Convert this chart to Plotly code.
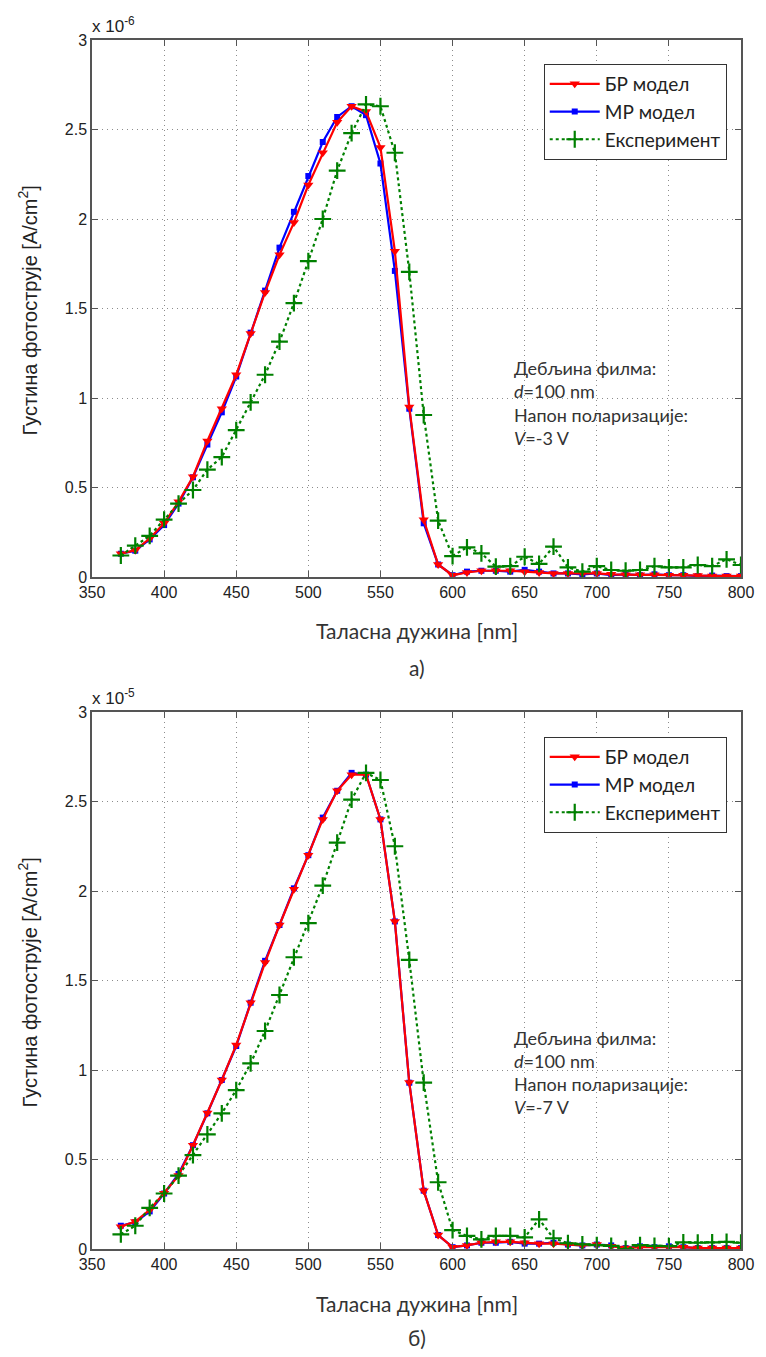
import plotly.graph_objects as go

# ---------------- data ----------------
wavelength_nm = list(range(370, 801, 10))

# top panel, values in units of 1e-6 A/cm^2
top_br = [0.13, 0.15, 0.215, 0.30, 0.42, 0.56, 0.76, 0.94, 1.13, 1.36, 1.59, 1.80, 1.98, 2.19, 2.37, 2.54,
          2.63, 2.60, 2.40, 1.82, 0.95, 0.32, 0.07, 0.01, 0.025, 0.035, 0.035, 0.035, 0.03, 0.025, 0.02,
          0.02, 0.02, 0.02, 0.015, 0.012, 0.012, 0.012, 0.01, 0.01, 0.008, 0.006, 0.005, 0.005]
top_mp = [0.13, 0.147, 0.21, 0.29, 0.41, 0.557, 0.74, 0.92, 1.12, 1.365, 1.60, 1.84, 2.04, 2.24, 2.43, 2.57,
          2.63, 2.58, 2.31, 1.71, 0.94, 0.30, 0.07, 0.01, 0.03, 0.035, 0.035, 0.03, 0.04, 0.03, 0.02,
          0.02, 0.015, 0.02, 0.01, 0.015, 0.01, 0.015, 0.01, 0.01, 0.005, 0.008, 0.005, 0.005]
top_exp = [0.12, 0.175, 0.23, 0.32, 0.41, 0.486, 0.60, 0.67, 0.82, 0.976, 1.13, 1.315, 1.53, 1.765, 2.00, 2.27,
           2.48, 2.64, 2.63, 2.37, 1.705, 0.905, 0.315, 0.117, 0.166, 0.132, 0.058, 0.061, 0.113, 0.073, 0.17,
           0.054, 0.03, 0.061, 0.039, 0.035, 0.039, 0.06, 0.054, 0.054, 0.067, 0.061, 0.099, 0.067]

# bottom panel, values in units of 1e-5 A/cm^2
bot_br = [0.125, 0.153, 0.218, 0.311, 0.41, 0.58, 0.76, 0.944, 1.14, 1.376, 1.60, 1.81, 2.01, 2.20, 2.40, 2.56,
          2.65, 2.65, 2.40, 1.83, 0.93, 0.326, 0.078, 0.01, 0.02, 0.035, 0.04, 0.04, 0.035, 0.03, 0.03,
          0.025, 0.02, 0.025, 0.015, 0.005, 0.01, 0.01, 0.01, 0.01, 0.005, 0.005, 0.005, 0.005]
bot_mp = [0.13, 0.15, 0.21, 0.31, 0.419, 0.58, 0.758, 0.944, 1.134, 1.376, 1.61, 1.81, 2.015, 2.20, 2.41, 2.56,
          2.66, 2.65, 2.40, 1.83, 0.929, 0.326, 0.078, 0.01, 0.02, 0.035, 0.035, 0.04, 0.03, 0.03, 0.035,
          0.025, 0.02, 0.025, 0.02, 0.005, 0.015, 0.01, 0.015, 0.01, 0.005, 0.005, 0.005, 0.005]
bot_exp = [0.082, 0.13, 0.23, 0.31, 0.41, 0.525, 0.64, 0.758, 0.888, 1.037, 1.218, 1.419, 1.63, 1.82, 2.03, 2.27,
           2.51, 2.66, 2.62, 2.25, 1.615, 0.93, 0.373, 0.106, 0.073, 0.054, 0.073, 0.073, 0.065, 0.166, 0.06,
           0.032, 0.026, 0.022, 0.018, 0.0, 0.022, 0.018, 0.016, 0.037, 0.035, 0.037, 0.04, 0.035]

series_names = ["БР модел", "МР модел", "Експеримент"]
x_ticks = list(range(350, 801, 50))
y_ticks = [0, 0.5, 1, 1.5, 2, 2.5, 3]
y_ticktext = ["0", "0.5", "1", "1.5", "2", "2.5", "3"]
x_title = "Таласна дужина [nm]"
y_title = "Густина фотострује [A/cm<sup>2</sup>]"
panel_labels = ["а)", "б)"]
scale_labels = ["x 10<sup>-6</sup>", "x 10<sup>-5</sup>"]
info_lines = [["Дебљина филма:", "<i>d</i>=100 nm", "Напон поларизације:", "<i>V</i>=-3 V"],
              ["Дебљина филма:", "<i>d</i>=100 nm", "Напон поларизације:", "<i>V</i>=-7 V"]]

# ---------------- figure ----------------
W, H = 766, 1357
ML, MR, MT, MB = 92, 16, 40, 108
PW, PH = W - ML - MR, H - MT - MB


def py(pix):  # pixel y -> paper y
    return (H - MB - pix) / PH


def px(pix):  # pixel x -> paper x
    return (pix - ML) / PW


fig = go.Figure()
TICKF = dict(family="Liberation Sans, Arial, sans-serif", size=16, color="#222")
LABF = dict(family="Lato, Open Sans, sans-serif", size=21, color="#333")
LEGF = dict(family="Lato, Open Sans, sans-serif", size=19, color="#222")

panels = [(top_br, top_mp, top_exp, "x", "y", "legend"),
          (bot_br, bot_mp, bot_exp, "x2", "y2", "legend2")]

for br, mp, ex, xa, ya, lg in panels:
    fig.add_trace(go.Scatter(x=wavelength_nm, y=mp, name=series_names[1], xaxis=xa, yaxis=ya,
                             legend=lg, legendrank=2, mode="lines+markers",
                             line=dict(color="#0000ff", width=2.2),
                             marker=dict(symbol="square", size=6, color="#0000ff")))
    fig.add_trace(go.Scatter(x=wavelength_nm, y=br, name=series_names[0], xaxis=xa, yaxis=ya,
                             legend=lg, legendrank=1, mode="lines+markers",
                             line=dict(color="#ff0000", width=2.2),
                             marker=dict(symbol="triangle-down", size=9, color="#ff0000")))
    fig.add_trace(go.Scatter(x=wavelength_nm, y=ex, name=series_names[2], xaxis=xa, yaxis=ya,
                             legend=lg, legendrank=3, mode="lines+markers",
                             line=dict(color="#008000", width=2.2, dash="dot"),
                             marker=dict(symbol="cross-thin", size=12, color="#008000",
                                         line=dict(color="#008000", width=2.2))))

top_dom = [py(577), 1.0]
bot_dom = [0.0, py(712)]

axis_common = dict(showgrid=True, gridcolor="#8c8c8c", griddash="1px,4px", gridwidth=1.3,
                   showline=True, linecolor="#555", linewidth=1.5, mirror="ticks",
                   ticks="inside", ticklen=6, tickcolor="#555", zeroline=False,
                   tickfont=TICKF)

fig.update_layout(
    width=W, height=H, margin=dict(l=ML, r=MR, t=MT, b=MB),
    paper_bgcolor="white", plot_bgcolor="white", showlegend=True,
    xaxis=dict(domain=[0, 1], anchor="y", range=[350, 800], tickvals=x_ticks, **axis_common),
    yaxis=dict(domain=top_dom, anchor="x", range=[0, 3], tickvals=y_ticks, ticktext=y_ticktext, **axis_common),
    xaxis2=dict(domain=[0, 1], anchor="y2", range=[350, 800], tickvals=x_ticks, **axis_common),
    yaxis2=dict(domain=bot_dom, anchor="x2", range=[0, 3], tickvals=y_ticks, ticktext=y_ticktext, **axis_common),
    legend=dict(x=px(550), y=py(64), xanchor="left", yanchor="top", bgcolor="white",
                bordercolor="#333", borderwidth=1, itemwidth=50, tracegroupgap=0, font=LEGF),
    legend2=dict(x=px(550), y=py(737), xanchor="left", yanchor="top", bgcolor="white",
                 bordercolor="#333", borderwidth=1, itemwidth=50, tracegroupgap=0, font=LEGF),
)

ann = []
panel_px = [(40, 577, 630, 667), (712, 1249, 1303, 1337)]
info_px = [[368, 391, 415, 438], [1038, 1061, 1084, 1107]]
for i, (ytop, ybot, ytit, ylab) in enumerate(panel_px):
    ann.append(dict(text=scale_labels[i], x=px(90), y=py(ytop - 2), xref="paper", yref="paper",
                    xanchor="left", yanchor="bottom", showarrow=False,
                    font=dict(family="Liberation Sans, Arial, sans-serif", size=17, color="#222")))
    ann.append(dict(text=y_title, x=px(27), y=py((ytop + ybot) / 2 + 2), xref="paper", yref="paper",
                    textangle=-90, showarrow=False, xanchor="center", yanchor="middle",
                    font=dict(family="Liberation Sans, Arial, sans-serif", size=20, color="#222")))
    ann.append(dict(text=x_title, x=px(421), y=py(ytit), xref="paper", yref="paper",
                    showarrow=False, xanchor="center", yanchor="middle", font=LABF))
    ann.append(dict(text=panel_labels[i], x=px(421), y=py(ylab), xref="paper", yref="paper",
                    showarrow=False, xanchor="center", yanchor="middle", font=LABF))
    for j, line in enumerate(info_lines[i]):
        ann.append(dict(text=line, x=px(518), y=py(info_px[i][j]), xref="paper", yref="paper",
                        showarrow=False, xanchor="left", yanchor="middle",
                        font=dict(family="Lato, Open Sans, sans-serif", size=18, color="#333")))
fig.update_layout(annotations=ann)

fig.write_html("out.html")
